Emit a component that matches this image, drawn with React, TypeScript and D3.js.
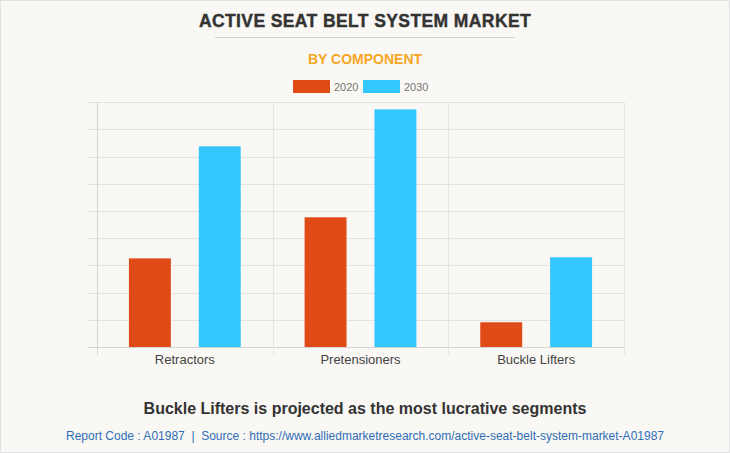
import React from "react";
import * as d3 from "d3";

const categories = ["Retractors", "Pretensioners", "Buckle Lifters"];
const years = ["2020", "2030"];
const values2020 = [326, 477, 91];
const values2030 = [738, 874, 330];
const yTicks = d3.range(0, 901, 100);

const colors: Record<string, string> = { "2020": "#e04a16", "2030": "#33c6ff" };

const W = 730;
const H = 453;
const margin = { left: 97, right: 106, top: 102, bottom: 106 };

export default function App() {
  const x = d3
    .scaleBand<string>()
    .domain(categories)
    .range([margin.left, W - margin.right]);
  const xInner = d3
    .scaleBand<string>()
    .domain(years)
    .range([0, x.bandwidth()])
    .paddingInner(0.4)
    .paddingOuter(0.457);
  const y = d3
    .scaleLinear()
    .domain([0, 900])
    .range([H - margin.bottom, margin.top + 0.3]);

  const rows = categories.map((c, i) => ({
    cat: c,
    vals: [
      { year: "2020", v: values2020[i] },
      { year: "2030", v: values2030[i] },
    ],
  }));

  const x0 = margin.left;
  const x1 = W - margin.right;
  const yBase = y(0);
  const boundaries = [...categories.map((c) => x(c)!), x1];

  return (
    <div style={{ position: "fixed", left: 0, top: 0 }}>
      <svg width={W} height={H} style={{ display: "block" }}>
        <rect x={0.5} y={0.5} width={W - 1} height={H - 1} fill="#f9f8f4" stroke="#e2e2e2" />
        <text
          x={W / 2}
          y={27}
          textAnchor="middle"
          fontFamily="'Liberation Sans', Arial, sans-serif"
          fontWeight="bold"
          fontSize={17.5}
          letterSpacing={0.4}
          fill="#333"
          stroke="#333"
          strokeWidth={0.4}
        >
          ACTIVE SEAT BELT SYSTEM MARKET
        </text>
        <line x1={215} x2={515} y1={37.5} y2={37.5} stroke="#cfcfcf" />
        <text
          x={W / 2}
          y={64}
          textAnchor="middle"
          fontFamily="'Liberation Sans', Arial, sans-serif"
          fontWeight="bold"
          fontSize={14}
          fill="#f5a623"
        >
          BY COMPONENT
        </text>
        {years.map((yr, i) => (
          <g key={yr} transform={`translate(${293 + i * 70},80)`}>
            <rect x={0} y={0} width={37} height={13} fill={colors[yr]} />
            <text
              x={41}
              y={10.5}
              fontFamily="'Liberation Sans', Arial, sans-serif"
              fontSize={11}
              fill="#777"
            >
              {yr}
            </text>
          </g>
        ))}

        {yTicks.map((t) => (
          <line
            key={t}
            x1={x0 - 9}
            x2={x1}
            y1={Math.round(y(t)) + 0.5}
            y2={Math.round(y(t)) + 0.5}
            stroke={t === 0 ? "#d4d4d4" : "#e3e3e3"}
          />
        ))}
        {boundaries.map((b, i) => (
          <line
            key={i}
            x1={Math.round(b) + 0.5}
            x2={Math.round(b) + 0.5}
            y1={y(900)}
            y2={yBase + 8}
            stroke={i === 0 ? "#d4d4d4" : "#e6e6e6"}
          />
        ))}

        {rows.map((r) => (
          <g key={r.cat} transform={`translate(${x(r.cat)},0)`}>
            {r.vals.map((d) => (
              <rect
                key={d.year}
                x={xInner(d.year)}
                y={y(d.v)}
                width={xInner.bandwidth()}
                height={yBase - y(d.v)}
                fill={colors[d.year]}
              />
            ))}
            <text
              x={x.bandwidth() / 2}
              y={yBase + 17}
              textAnchor="middle"
              fontFamily="'Liberation Sans', Arial, sans-serif"
              fontSize={13}
              fill="#444"
            >
              {r.cat}
            </text>
          </g>
        ))}

        <text
          x={W / 2}
          y={414}
          textAnchor="middle"
          fontFamily="'Liberation Sans', Arial, sans-serif"
          fontWeight="bold"
          fontSize={16}
          fill="#333"
        >
          Buckle Lifters is projected as the most lucrative segments
        </text>
        <text
          x={W / 2}
          y={440}
          textAnchor="middle"
          fontFamily="'Liberation Sans Narrow', 'Arial Narrow', 'Liberation Sans', sans-serif"
          fontSize={12.5}
          fill="#2f6db5"
          textLength={598}
          lengthAdjust="spacingAndGlyphs"
          style={{ whiteSpace: "pre" }}
        >
          {"Report Code : A01987  |  Source : https://www.alliedmarketresearch.com/active-seat-belt-system-market-A01987"}
        </text>
      </svg>
    </div>
  );
}
